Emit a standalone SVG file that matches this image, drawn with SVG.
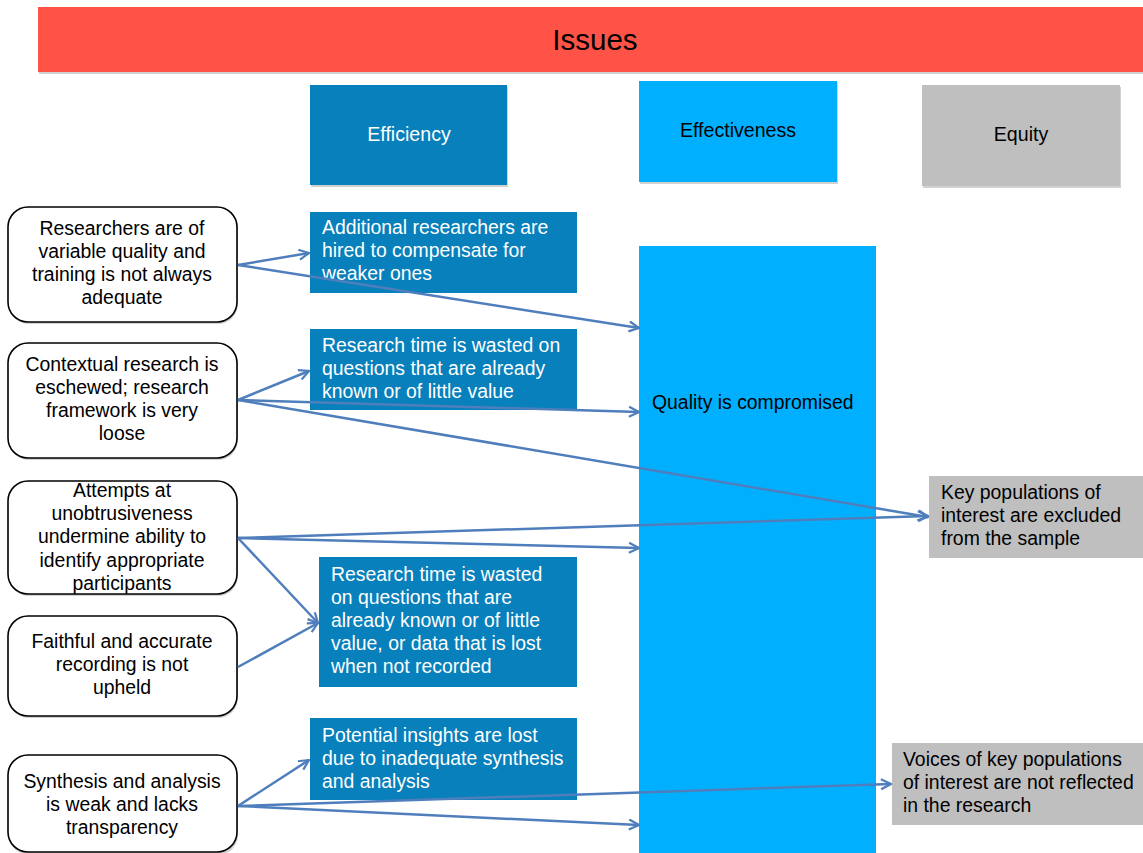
<svg xmlns="http://www.w3.org/2000/svg" width="1143" height="853" viewBox="0 0 1143 853">
<style>
text{font-family:"Liberation Sans",Arial,sans-serif;font-size:19.4px;fill:#000}
.w{fill:#fff}
.c{text-anchor:middle}
.eff{fill:#0780BB}
.efv{fill:#00B0FF}
.eq{fill:#BFBFBF}
.src{fill:#fff;stroke:#000;stroke-width:1.6}
.sh{fill:#000;opacity:0.18}
.conn{stroke:#4F7EBC;stroke-width:2.5;fill:none;marker-end:url(#ah)}
</style>
<defs>
<marker id="ah" viewBox="0 0 12 12" refX="11" refY="6" markerWidth="12" markerHeight="12" markerUnits="userSpaceOnUse" orient="auto">
<path d="M1,1 L11,6 L1,11" fill="none" stroke="#4F7EBC" stroke-width="2.2"/>
</marker>
</defs>
<rect width="1143" height="853" fill="#fff"/>
<g id="issues">
<rect x="39" y="9" width="1104" height="65" class="sh"/>
<rect x="38" y="7" width="1105" height="65" fill="#FE5346"/>
<text x="595" y="50" class="c" style="font-size:29.5px">Issues</text>
</g>
<g id="efficiency-head">
<rect x="311" y="87" width="197" height="100" class="sh"/>
<rect x="310" y="85" width="197" height="100" class="eff"/>
<text x="409" y="141" class="c w" style="font-size:19.6px">Efficiency</text>
</g>
<g id="effectiveness-head">
<rect x="640" y="83" width="198" height="101" class="sh"/>
<rect x="639" y="81" width="198" height="101" class="efv"/>
<text x="738" y="137" class="c" style="font-size:19.6px">Effectiveness</text>
</g>
<g id="equity-head">
<rect x="923" y="87" width="198" height="101" class="sh"/>
<rect x="922" y="85" width="198" height="101" class="eq"/>
<text x="1021" y="141" class="c" style="font-size:19.6px">Equity</text>
</g>
<g id="quality">
<rect x="639" y="246" width="237" height="607" class="efv"/>
<text x="652" y="409">Quality is compromised</text>
</g>
<g id="src1">
<rect x="9" y="209" width="229" height="115" rx="20" class="sh"/>
<rect x="8" y="207" width="229" height="115" rx="20" class="src"/>
<text class="c" x="122" y="235">Researchers are of</text>
<text class="c" x="122" y="258">variable quality and</text>
<text class="c" x="122" y="281">training is not always</text>
<text class="c" x="122" y="304">adequate</text>
</g>
<g id="src2">
<rect x="9" y="345" width="229" height="115" rx="20" class="sh"/>
<rect x="8" y="343" width="229" height="115" rx="20" class="src"/>
<text class="c" x="122" y="371">Contextual research is</text>
<text class="c" x="122" y="394">eschewed; research</text>
<text class="c" x="122" y="417">framework is very</text>
<text class="c" x="122" y="440">loose</text>
</g>
<g id="src3">
<rect x="9" y="483" width="229" height="113" rx="20" class="sh"/>
<rect x="8" y="481" width="229" height="113" rx="20" class="src"/>
<text class="c" x="122" y="497">Attempts at</text>
<text class="c" x="122" y="520">unobtrusiveness</text>
<text class="c" x="122" y="543">undermine ability to</text>
<text class="c" x="122" y="567">identify appropriate</text>
<text class="c" x="122" y="590">participants</text>
</g>
<g id="src4">
<rect x="9" y="618" width="229" height="100" rx="20" class="sh"/>
<rect x="8" y="616" width="229" height="100" rx="20" class="src"/>
<text class="c" x="122" y="648">Faithful and accurate</text>
<text class="c" x="122" y="671">recording is not</text>
<text class="c" x="122" y="694">upheld</text>
</g>
<g id="src5">
<rect x="9" y="757" width="229" height="98" rx="20" class="sh"/>
<rect x="8" y="755" width="229" height="97" rx="20" class="src"/>
<text class="c" x="122" y="788">Synthesis and analysis</text>
<text class="c" x="122" y="811">is weak and lacks</text>
<text class="c" x="122" y="834">transparency</text>
</g>
<g id="effA">
<rect x="310" y="212" width="267" height="81" class="eff"/>
<text class="w" x="322" y="234">Additional researchers are</text>
<text class="w" x="322" y="257">hired to compensate for</text>
<text class="w" x="322" y="280">weaker ones</text>
</g>
<g id="effB">
<rect x="310" y="329" width="267" height="81" class="eff"/>
<text class="w" x="322" y="352">Research time is wasted on</text>
<text class="w" x="322" y="375">questions that are already</text>
<text class="w" x="322" y="398">known or of little value</text>
</g>
<g id="effC">
<rect x="319" y="557" width="258" height="130" class="eff"/>
<text class="w" x="331" y="581">Research time is wasted</text>
<text class="w" x="331" y="604">on questions that are</text>
<text class="w" x="331" y="627">already known or of little</text>
<text class="w" x="331" y="650">value, or data that is lost</text>
<text class="w" x="331" y="673">when not recorded</text>
</g>
<g id="effD">
<rect x="310" y="718" width="267" height="82" class="eff"/>
<text class="w" x="322" y="742">Potential insights are lost</text>
<text class="w" x="322" y="765">due to inadequate synthesis</text>
<text class="w" x="322" y="788">and analysis</text>
</g>
<g id="eq1">
<rect x="929" y="476" width="214" height="82" class="eq"/>
<text x="941" y="499">Key populations of</text>
<text x="941" y="522">interest are excluded</text>
<text x="941" y="545">from the sample</text>
</g>
<g id="eq2">
<rect x="892" y="743" width="251" height="82" class="eq"/>
<text x="903" y="766">Voices of key populations</text>
<text x="903" y="789">of interest are not reflected</text>
<text x="903" y="812">in the research</text>
</g>
<g id="connectors">
<line class="conn" x1="238" y1="265" x2="309" y2="253"/>
<line class="conn" x1="238" y1="265" x2="639" y2="328"/>
<line class="conn" x1="238" y1="400" x2="309" y2="371"/>
<line class="conn" x1="238" y1="400" x2="639" y2="412"/>
<line class="conn" x1="238" y1="400" x2="928" y2="517"/>
<line class="conn" x1="238" y1="538" x2="928" y2="516"/>
<line class="conn" x1="238" y1="538" x2="639" y2="548"/>
<line class="conn" x1="238" y1="538" x2="318" y2="623"/>
<line class="conn" x1="238" y1="667" x2="318" y2="623"/>
<line class="conn" x1="238" y1="806" x2="309" y2="760"/>
<line class="conn" x1="238" y1="806" x2="891" y2="784"/>
<line class="conn" x1="238" y1="806" x2="639" y2="825"/>
</g>
</svg>
